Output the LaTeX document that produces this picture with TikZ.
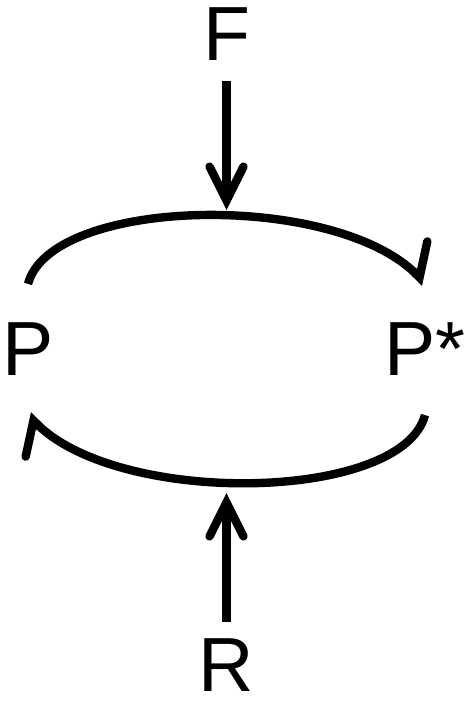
\documentclass[tikz,border=0pt]{standalone}
\usepackage{fontspec}
\setmainfont{Liberation Sans}
\usetikzlibrary{arrows.meta,positioning}

\begin{document}
\begin{tikzpicture}[x=0.5pt,y=-0.5pt,>={Straight Barb[length=17pt,width=17pt,line cap=round,line join=miter]},
                    line width=4.2pt,node distance=99.25pt,
                    main node/.style={inner sep=0pt,font=\fontsize{38.4}{46}\selectfont},
                    harpoon arc/.style={-{Straight Barb[left,length=10pt,width=31pt,line cap=round,line join=miter]},
                                        out looseness=0.58,in looseness=0.84}]

  \useasboundingbox (0,0) rectangle (471,702);
  \coordinate (c) at (226.5,349.5);

  \node[main node] (P) [left of=c] {P};
  \node[main node] (P*) [right of=c] {P*};
  \node[main node,node distance=157.5pt] (F) [above of=c] {F};
  \node[main node,node distance=158pt] (R) [below of=c] {R};

  % ends of the two arcs and tips of the two arrows
  \coordinate[above=17.5pt of P] (ptop);
  \coordinate[above=18pt of P*] (qtop);
  \coordinate[below=17.5pt of P*] (qbot);
  \coordinate[below=17.5pt of P] (pbot);
  \coordinate (ftip) at (226.5,210);
  \coordinate (rtip) at (226.5,493);

  \draw[harpoon arc] (ptop) to[out=75,in=135] (qtop);
  \draw[harpoon arc] (qbot) to[out=-105,in=-45] (pbot);
  \draw[->,shorten <=8pt] (ftip |- F.south) -- (ftip);
  \draw[->,shorten <=6.5pt] (rtip |- R.north) -- (rtip);
\end{tikzpicture}
\end{document}
